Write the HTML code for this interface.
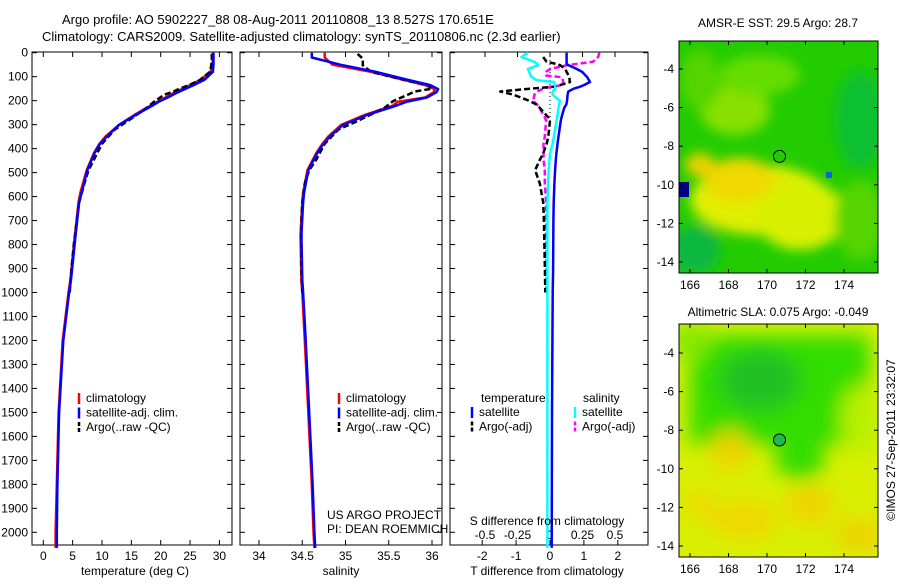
<!DOCTYPE html>
<html><head><meta charset="utf-8">
<style>
body{margin:0;background:#fff;width:900px;height:580px;overflow:hidden;font-family:"Liberation Sans",sans-serif}
svg text{font-family:"Liberation Sans",sans-serif;font-size:12px;fill:#000}
</style></head><body>
<svg id="fig" width="900" height="580" viewBox="0 0 900 580" xmlns="http://www.w3.org/2000/svg">
<defs>
<filter id="blur6" x="-30%" y="-30%" width="160%" height="160%"><feGaussianBlur stdDeviation="6"/></filter>
<filter id="blur10" x="-30%" y="-30%" width="160%" height="160%"><feGaussianBlur stdDeviation="10"/></filter>
<clipPath id="m1clip"><rect x="679" y="41" width="199" height="232"/></clipPath>
<clipPath id="m2clip"><rect x="679" y="324" width="199" height="233"/></clipPath>
</defs>
<text x="62" y="24" style="font-size:13px">Argo profile: AO 5902227_88 08-Aug-2011 20110808_13 8.527S 170.651E</text>
<text x="42" y="41" style="font-size:13px">Climatology: CARS2009. Satellite-adjusted climatology: synTS_20110806.nc (2.3d earlier)</text>
<g id="plots"></g>
<g>
<g clip-path="url(#m1clip)">
<rect x="679" y="41" width="199" height="232" fill="#22cc00"/>
<g filter="url(#blur6)">
<ellipse cx="735" cy="110" rx="35" ry="25" fill="#88e000"/>
<ellipse cx="760" cy="75" rx="40" ry="20" fill="#66dd00"/>
<ellipse cx="700" cy="80" rx="20" ry="30" fill="#55d400"/>
<ellipse cx="760" cy="200" rx="70" ry="35" fill="#e0ee00"/>
<ellipse cx="740" cy="180" rx="35" ry="22" fill="#f0d800"/>
<ellipse cx="800" cy="215" rx="45" ry="35" fill="#d8f000"/>
<ellipse cx="700" cy="165" rx="15" ry="12" fill="#f0d000"/>
<ellipse cx="860" cy="220" rx="25" ry="40" fill="#55d400"/>
<ellipse cx="695" cy="250" rx="25" ry="25" fill="#10b840"/>
<ellipse cx="860" cy="120" rx="25" ry="50" fill="#10c030"/>
</g>
<rect x="679" y="182" width="10" height="15" fill="#000080"/>
<rect x="826" y="172" width="6" height="6" fill="#1060e0"/>
</g>
<rect x="679" y="41" width="199" height="232" fill="none" stroke="#000"/>
<circle cx="779.5" cy="156.4" r="6" fill="#22cc00" stroke="#000"/>
<text x="778" y="27" text-anchor="middle">AMSR-E SST: 29.5 Argo: 28.7</text>
</g>
<g>
<g clip-path="url(#m2clip)">
<rect x="679" y="324" width="199" height="233" fill="#d8f000"/>
<g filter="url(#blur10)">
<rect x="690" y="335" width="180" height="110" fill="#30dd00"/>
<ellipse cx="760" cy="380" rx="40" ry="30" fill="#22c020"/>
<ellipse cx="800" cy="460" rx="25" ry="20" fill="#30dd00"/>
<ellipse cx="690" cy="340" rx="20" ry="20" fill="#88e800"/>
<ellipse cx="860" cy="420" rx="20" ry="35" fill="#b8f000"/>
<ellipse cx="730" cy="450" rx="18" ry="20" fill="#f0d000"/>
<ellipse cx="810" cy="505" rx="25" ry="20" fill="#f0d400"/>
<ellipse cx="745" cy="520" rx="35" ry="20" fill="#f0d800"/>
<ellipse cx="860" cy="535" rx="25" ry="15" fill="#f0d000"/>
<ellipse cx="700" cy="505" rx="15" ry="15" fill="#f0d800"/>
</g>
</g>
<rect x="679" y="324" width="199" height="233" fill="none" stroke="#000"/>
<circle cx="779.5" cy="440" r="6" fill="#20b850" stroke="#000"/>
<text x="778" y="316" text-anchor="middle">Altimetric SLA: 0.075 Argo: -0.049</text>
</g>
<text transform="translate(895,440) rotate(-90)" text-anchor="middle">©IMOS 27-Sep-2011 23:32:07</text>
</svg>
<script>
const depthsClim = [0,20,50,80,112,135,152,165,187,205,220,260,301,350,382,420,490,585,625,760,950,1000,1200,1500,1800,2000,2065];
const tempClim  = [28.9,28.9,28.8,28.5,26.8,25.0,23.6,22.4,20.8,19.4,18.3,15.5,12.9,10.6,9.5,8.6,7.4,6.3,6.0,5.4,4.6,4.3,3.3,2.6,2.3,2.1,2.1];
const tempSat   = [29.0,29.0,29.0,28.9,27.5,25.6,24.1,22.9,21.2,19.6,18.6,15.7,12.9,10.8,9.6,8.7,7.5,6.5,6.1,5.5,4.7,4.4,3.4,2.7,2.4,2.3,2.3];
const salClim   = [34.76,34.76,34.85,35.30,35.66,35.92,36.03,36.02,35.92,35.60,35.55,35.22,34.95,34.80,34.73,34.66,34.56,34.51,34.50,34.48,34.49,34.50,34.53,34.57,34.61,34.63,34.64];
const salSat    = [34.61,34.61,34.94,35.35,35.71,35.98,36.07,36.05,35.94,35.70,35.59,35.25,34.97,34.82,34.74,34.67,34.57,34.52,34.51,34.49,34.50,34.51,34.54,34.58,34.62,34.64,34.65];
const depthsArgo = [5,25,53,80,115,135,150,162,175,202,230,283,320,380,447,490,545,625,700,800,900,1000];
const tempArgo   = [28.7,28.7,28.6,28.4,26.6,24.8,23.2,22.2,20.6,19.0,17.6,14.5,12.2,10.0,8.6,7.7,7.0,6.1,5.7,5.2,4.8,4.5];
const salArgo    = [35.14,35.20,35.20,35.30,35.70,35.96,36.00,35.80,35.72,35.55,35.45,35.15,34.92,34.76,34.66,34.58,34.53,34.50,34.49,34.49,34.49,34.50];
const diffDepths = [0,18,38,47,52,68,80,95,102,115,122,135,142,150,162,175,202,216,230,270,283,350,380,420,447,490,545,625,700,900,1000,1500,2065];
const dTsat  = [0.49,0.49,0.49,0.49,0.55,0.79,0.95,1.05,1.1,1.15,1.18,1.0,0.88,0.7,0.54,0.52,0.5,0.48,0.42,0.34,0.32,0.25,0.22,0.19,0.17,0.15,0.13,0.11,0.1,0.09,0.08,0.06,0.05];
const dSsat  = [-0.17,-0.22,-0.12,-0.1,-0.09,-0.17,-0.16,-0.15,-0.14,-0.1,0.03,0.04,0.04,0.04,0.02,0.02,0.077,0.07,0.065,0.055,0.05,0.03,0.02,0.0,-0.005,-0.01,-0.015,-0.02,-0.02,-0.02,-0.02,-0.02,-0.02];
const dTargo = [null,-0.2,-0.1,0.2,0.3,0.45,0.49,0.55,0.57,0.58,0.59,0.3,0.1,-0.6,-1.47,-1.08,-0.59,-0.4,-0.3,-0.05,0.0,-0.05,-0.1,-0.2,-0.3,-0.44,-0.3,-0.2,-0.18,-0.15,-0.14,null,null];
const dSargo = [0.38,0.37,0.33,0.2,0.13,0.0,-0.03,-0.03,0.09,0.1,0.1,0.1,0.0,-0.05,-0.1,-0.12,-0.13,-0.1,-0.08,-0.04,-0.03,-0.04,-0.05,-0.05,-0.05,-0.04,-0.04,-0.03,-0.03,-0.03,-0.03,null,null];
const depthTicks = [0,100,200,300,400,500,600,700,800,900,1000,1100,1200,1300,1400,1500,1600,1700,1800,1900,2000];
const tempTicks = [0,5,10,15,20,25,30];
const salTicks = [34,34.5,35,35.5,36];
const salTickLabels = ["34","34.5","35","35.5","36"];
const tdTicks = [-2,-1,0,1,2];
const sdTicks = [-0.5,-0.25,0,0.25,0.5];
const sdTickLabels = ["-0.5","-0.25","0","0.25","0.5"];

const NS='http://www.w3.org/2000/svg';
const g=document.getElementById('plots');
const TOP=52, BOT=545;
const yD = d => 52.7 + d*0.2398;
const xT = t => 43.3 + t*5.87;
const xS = s => 259 + (s-34)*86.5;
const xTd = v => 550 + v*33.9;
const xSd = v => 550 + v*130;
const XLAB=560, XTITLE=575;
function el(tag,attrs,parent){const e=document.createElementNS(NS,tag);for(const k in attrs)e.setAttribute(k,attrs[k]);(parent||g).appendChild(e);return e;}
function txt(x,y,s,anchor,parent){const t=el('text',{x:x,y:y,'text-anchor':anchor||'start'},parent);t.textContent=s;return t;}
function line(xs,ys,sx,color,w,dash,name){
  let segs=[],cur=[];
  for(let i=0;i<xs.length;i++){ if(xs[i]==null){if(cur.length)segs.push(cur);cur=[];continue;} cur.push(sx(xs[i]).toFixed(1)+','+yD(ys[i]).toFixed(1)); }
  if(cur.length)segs.push(cur);
  segs.forEach(s=>{
    const p=el('polyline',{points:s.join(' '),fill:'none',stroke:color,'stroke-width':w,'stroke-linejoin':'round'});
    if(dash)p.setAttribute('stroke-dasharray',dash);
    
    
  });
}
function panel(x0,x1,name){
  const r=el('rect',{x:x0,y:TOP,width:x1-x0,height:BOT-TOP,fill:'none',stroke:'#000'});
  
  
  depthTicks.forEach(d=>{const y=yD(d);el('line',{x1:x0,y1:y,x2:x0+5,y2:y,stroke:'#000'});el('line',{x1:x1,y1:y,x2:x1-5,y2:y,stroke:'#000'});});
}
function xticks(ticks,labels,sx){
  ticks.forEach((v,i)=>{const x=sx(v);
    el('line',{x1:x,y1:BOT,x2:x,y2:BOT-5,stroke:'#000'});el('line',{x1:x,y1:TOP,x2:x,y2:TOP+5,stroke:'#000'});
    const t=txt(x,XLAB,labels[i],'middle');
    
    
  });
}
panel(32,232,'temperature-panel');
depthTicks.forEach(d=>{const t=txt(28,yD(d)+4,String(d),'end');
  
  });
xticks(tempTicks,tempTicks.map(String),xT);
line(tempClim,depthsClim,xT,'#f00',2.5,null,'temp-climatology-line');
line(tempArgo,depthsArgo,xT,'#000',2.5,'6 3','temp-argo-line');
line(tempSat,depthsClim,xT,'#00f',2.5,null,'temp-satellite-line');
let t=txt(135,XTITLE,'temperature (deg C)','middle');
function legend(x,y,items){
  items.forEach((it,i)=>{const yy=y+i*14.5;
    const l=el('line',{x1:x,y1:yy-9,x2:x,y2:yy+2,stroke:it[1],'stroke-width':2.5});
    if(it[2])l.setAttribute('stroke-dasharray','4 2');
    const tt=txt(x+7,yy,it[0]);
    
    
  });
}
legend(79,402,[['climatology','#f00'],['satellite-adj. clim.','#00f'],['Argo(..raw -QC)','#000',1]]);
panel(240,442,'salinity-panel');
xticks(salTicks,salTickLabels,xS);
line(salClim,depthsClim,xS,'#f00',2.5,null,'sal-climatology-line');
line(salArgo,depthsArgo,xS,'#000',2.5,'6 3','sal-argo-line');
line(salSat,depthsClim,xS,'#00f',2.5,null,'sal-satellite-line');
t=txt(341,XTITLE,'salinity','middle');
legend(339,402,[['climatology','#f00'],['satellite-adj. clim.','#00f'],['Argo(..raw -QC)','#000',1]]);
t=txt(327,519,'US ARGO PROJECT');
t=txt(327,533,'PI: DEAN ROEMMICH');
const r3=el('rect',{x:450,y:TOP,width:198,height:BOT-TOP,fill:'none',stroke:'#000'});


depthTicks.forEach(d=>{const y=yD(d);el('line',{x1:450,y1:y,x2:455,y2:y,stroke:'#000'});el('line',{x1:648,y1:y,x2:643,y2:y,stroke:'#000'});});
tdTicks.forEach(v=>{const x=xTd(v);el('line',{x1:x,y1:BOT,x2:x,y2:BOT-5,stroke:'#000'});
  const tt=txt(x,XLAB,String(v),'middle');});
sdTicks.forEach((v,i)=>{const x=xSd(v);el('line',{x1:x,y1:TOP,x2:x,y2:TOP+5,stroke:'#000'});
  const tt=txt(x,539,sdTickLabels[i],'middle');});
el('line',{x1:550,y1:TOP,x2:550,y2:yD(300),stroke:'#000','stroke-dasharray':'1 3'});
line(dSargo,diffDepths,xSd,'#f0f',2.5,'6 3','s-diff-argo-line');
line(dTargo,diffDepths,xTd,'#000',2.5,'6 3','t-diff-argo-line');
line(dTsat,diffDepths,xTd,'#00f',2.5,null,'t-diff-satellite-line');
line(dSsat,diffDepths,xSd,'#0ff',2.5,null,'s-diff-satellite-line');
t=txt(547,XTITLE,'T difference from climatology','middle');
t=txt(547,525,'S difference from climatology','middle');
t=txt(481,402,'temperature');
t=txt(583,402,'salinity');
legend(472,416,[['satellite','#00f'],['Argo(-adj)','#000',1]]);
legend(575,416,[['satellite','#0ff'],['Argo(-adj)','#f0f',1]]);
const lonTicks=[166,168,170,172,174];
const latTicks=[-4,-6,-8,-10,-12,-14];
const fig=document.getElementById('fig');
function mapAxes(y0,y1,lat4){
  lonTicks.forEach(l=>{const x=690+(l-166)*19.25;
    el('line',{x1:x,y1:y1,x2:x,y2:y1-4,stroke:'#000'},fig);el('line',{x1:x,y1:y0,x2:x,y2:y0+4,stroke:'#000'},fig);
    const tt=txt(x,y1+16,String(l),'middle',fig);});
  latTicks.forEach(l=>{const y=lat4+(-4-l)*19.3;
    el('line',{x1:679,y1:y,x2:683,y2:y,stroke:'#000'},fig);el('line',{x1:878,y1:y,x2:874,y2:y,stroke:'#000'},fig);
    const tt=txt(674,y+4,String(l),'end',fig);});
}
mapAxes(41,273,69);
mapAxes(324,557,353);
</script>
</body></html>
